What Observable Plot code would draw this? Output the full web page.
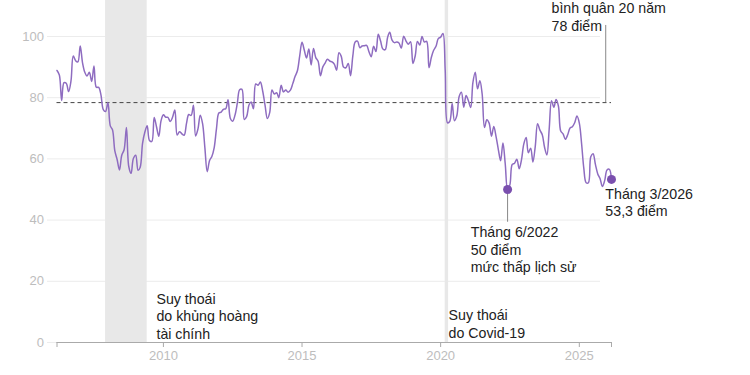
<!DOCTYPE html>
<html>
<head>
<meta charset="utf-8">
<script src="https://cdn.jsdelivr.net/npm/d3@7"></script>
<script src="https://cdn.jsdelivr.net/npm/@observablehq/plot@0.6"></script>
<style>
  body { margin: 0; background: #fff; }
</style>
</head>
<body>
<div id="chart"></div>
<script>
// Monthly consumer sentiment index, March 2006 – March 2026
const startMonth = "2006-03-01";
const sentiment = [
  88.9, 87.4, 79.1, 84.9, 84.7, 82.0, 85.4, 93.6, 92.1, 91.7,
  96.9, 91.3, 88.4, 87.1, 88.3, 85.3, 90.4, 83.4, 83.4, 80.9, 76.1, 75.5,
  78.4, 70.8, 69.5, 62.6, 59.8, 56.4, 61.2, 63.0, 70.3, 57.6, 55.3, 60.1,
  61.2, 56.3, 57.3, 65.1, 68.7, 70.8, 66.0, 65.7, 73.5, 70.6, 67.4, 72.5,
  74.4, 73.6, 73.6, 72.2, 73.6, 76.0, 67.8, 68.9, 68.2, 67.7, 71.6, 74.5,
  74.2, 77.5, 67.5, 69.8, 74.3, 71.5, 63.7, 55.8, 59.5, 60.8, 63.7, 69.9,
  75.0, 75.3, 76.2, 76.4, 79.3, 73.2, 72.3, 74.3, 78.3, 82.6, 82.7, 72.9,
  73.8, 77.6, 78.6, 76.4, 84.5, 84.1, 85.1, 82.1, 77.5, 73.2, 75.1, 82.5,
  81.2, 81.6, 80.0, 84.1, 81.9, 82.5, 81.8, 82.5, 84.6, 86.9, 88.8, 93.6,
  98.1, 95.4, 93.0, 95.9, 90.7, 96.1, 93.1, 91.9, 87.2, 90.0, 91.3, 92.6,
  92.0, 91.7, 91.0, 89.0, 94.7, 93.5, 90.0, 89.8, 91.2, 87.2, 93.8, 98.2,
  98.5, 96.3, 96.9, 97.0, 97.1, 95.0, 93.4, 96.8, 95.1, 100.7, 98.5, 95.9,
  95.7, 99.7, 101.4, 98.8, 98.0, 98.2, 97.9, 96.2, 100.1, 98.6, 97.5, 98.3,
  91.2, 93.8, 98.4, 97.2, 100.0, 98.2, 98.4, 89.8, 93.2, 95.5, 96.8, 99.3,
  99.8, 101.0, 89.1, 71.8, 72.3, 78.1, 72.5, 74.1, 80.4, 81.8, 76.9, 80.7,
  79.0, 76.8, 84.9, 88.3, 82.9, 85.5, 81.2, 70.3, 72.8, 71.7, 67.4, 70.6,
  67.2, 62.8, 59.4, 65.2, 58.4, 50.0, 51.5, 58.2, 58.6, 59.9, 56.8, 59.7,
  64.9, 67.0, 62.0, 63.5, 59.0, 64.2, 71.5, 69.4, 67.9, 63.8, 61.3, 69.7,
  79.0, 76.9, 79.4, 77.2, 69.1, 68.2, 66.4, 67.9, 70.1, 70.5, 71.8, 74.0,
  71.7, 64.7, 57.0, 52.2, 52.2, 60.7, 61.7, 58.2, 55.1, 53.6, 51.0, 52.9,
  56.4, 56.6, 53.3
];
const yTicks = [0, 20, 40, 60, 80, 100];
const xTickYears = [2010, 2015, 2020, 2025];
const average20y = 78.4;
const recessions = [
  { start: "2007-12-01", end: "2009-06-01" },
  { start: "2020-03-01", end: "2020-04-15" }
];
const highlights = [
  { date: "2022-06-01", value: 50.0 },
  { date: "2026-03-01", value: 53.3 }
];
const annotations = [
  { date: "2009-10-01", value: 8.8, text: "Suy thoái\ndo khủng hoàng\ntài chính" },
  { date: "2020-04-15", value: 6.3, text: "Suy thoái\ndo Covid-19" },
  { date: "2021-02-01", value: 30.6, text: "Tháng 6/2022\n50 điểm\nmức thấp lịch sử" },
  { date: "2025-12-10", value: 46.0, text: "Tháng 3/2026\n53,3 điểm" },
  { date: "2024-01-01", value: 106.7, text: "bình quân 20 năm\n78 điểm" }
];
const leaders = [
  { date: "2022-06-01", from: 39.3, to: 50.0 },
  { date: "2025-12-15", from: average20y, to: 103.6 }
];

const t0 = new Date(startMonth);
const rows = sentiment.map((v, i) => ({ date: d3.utcMonth.offset(t0, i), value: v }));
const tEnd = rows[rows.length - 1].date;
const xTicks = [t0, ...xTickYears.map(y => new Date(Date.UTC(y, 0, 1))), tEnd];
const D = s => new Date(s);

const chart = Plot.plot({
  width: 750,
  height: 375,
  marginLeft: 56.5,
  marginRight: 139,
  marginTop: 36,
  marginBottom: 33,
  style: { fontFamily: "'Liberation Sans', Arial, Helvetica, sans-serif", background: "#fff" },
  x: { type: "utc", domain: [t0, tEnd] },
  y: { domain: [0, 100] },
  marks: [
    Plot.ruleY(yTicks, { stroke: "#ececec", insetLeft: -9.5, insetRight: 11 }),
    Plot.rectX(recessions, { x1: d => D(d.start), x2: d => D(d.end), fill: "#e8e8e8", insetTop: -36 }),
    Plot.axisY(yTicks, { tickSize: 0, tickPadding: 13, fontSize: 13, fill: "#bdbdbd", label: null }),
    Plot.ruleY([0], { stroke: "#aaa" }),
    Plot.axisX({
      ticks: xTicks,
      tickFormat: d => (xTickYears.includes(d.getUTCFullYear()) && d.getUTCMonth() === 0 ? String(d.getUTCFullYear()) : ""),
      tickSize: 5, tickPadding: 3, fontSize: 13, stroke: "#aaa", fill: "#bdbdbd", label: null
    }),
    Plot.ruleY([average20y], { stroke: "#444", strokeDasharray: "4,3" }),
    Plot.ruleX(leaders, { x: d => D(d.date), y1: "from", y2: "to", stroke: "#888" }),
    Plot.line(rows, { x: "date", y: "value", stroke: "#8e6cc0", strokeWidth: 1.5, curve: "catmull-rom" }),
    Plot.dot(highlights, { x: d => D(d.date), y: "value", r: 4.5, fill: "#7a4fae" }),
    Plot.text(annotations, {
      x: d => D(d.date), y: "value", text: "text",
      textAnchor: "start", lineAnchor: "middle", lineHeight: 1.25,
      fontSize: 14.2, fill: "#222"
    })
  ]
});
document.getElementById("chart").appendChild(chart);
</script>
</body>
</html>
